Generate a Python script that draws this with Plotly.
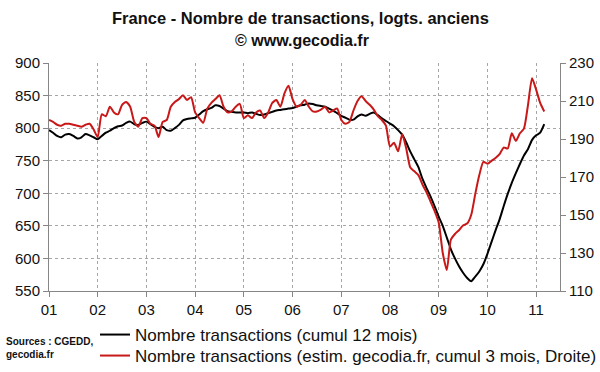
import plotly.graph_objects as go

# ---------------- data ----------------
years = list(range(2001, 2012))
tick_labels = ["01", "02", "03", "04", "05", "06", "07", "08", "09", "10", "11"]

# Monthly, Jan 2001 .. Mar 2011 (thousands, left axis)
black_12m = [
    797, 793, 788, 786, 790, 791, 788, 784, 786, 791, 789, 786,   # 2001
    783, 788, 793, 796, 800, 803, 804, 808, 810, 806, 805, 808,   # 2002
    810, 806, 802, 800, 802, 797, 796, 800, 805, 812, 814, 815,   # 2003
    816, 821, 826, 829, 831, 835, 834, 830, 826, 825, 824, 824,   # 2004
    824, 823, 824, 822, 820, 821, 823, 825, 827, 828, 829, 830,   # 2005
    831, 833, 835, 836, 838, 837, 835, 834, 833, 830, 827, 823,   # 2006
    819, 816, 813, 813, 818, 821, 819, 822, 824, 820, 815, 811,   # 2007
    807, 803, 797, 790, 778, 764, 752, 740, 722, 708, 695, 680,   # 2008
    664, 650, 632, 614, 600, 588, 578, 570, 565, 572, 580, 591,   # 2009
    607, 625, 643, 660, 680, 699, 716, 731, 745, 758, 768, 782,   # 2010
    789, 793, 806,                                               # 2011
]

# Monthly, Jan 2001 .. Mar 2011 (thousands, right axis)
red_3m = [
    200, 199, 197.5, 197, 198, 198, 197.5, 197, 196.5, 197.5, 198, 195,      # 2001
    191, 203, 202, 207, 204, 203, 208, 209.5, 207, 199, 196.5, 201,          # 2002
    201, 198, 197, 191, 199, 200, 207, 209.5, 211, 213, 210.5, 212,          # 2003
    204, 201, 198.5, 206, 209, 211, 213, 207, 204, 204.5, 207, 208.5,        # 2004
    201, 202.5, 201, 204, 205, 201, 204, 209, 210.5, 207, 214, 218,          # 2005
    211, 207, 208, 210.5, 207, 204.5, 204.5, 205.5, 207, 204, 205, 206,      # 2006
    200, 198, 199, 205, 210, 212.5, 210, 208, 205.5, 202, 200, 197,          # 2007
    186, 188, 183.5, 192.5, 185, 175, 173, 171, 166, 162, 157, 152,          # 2008
    146, 130, 121, 137, 140, 142, 144.5, 145.5, 150, 161, 171, 178,          # 2009
    177, 178.5, 180, 182, 185.5, 185, 193, 189, 193, 195.5, 208, 222,        # 2010
    216, 209, 204.5,                                                         # 2011
]

months = [2001 + i / 12 for i in range(len(black_12m))]

FONT = "Liberation Sans, Arial, sans-serif"
GRID = "#a6a6a6"
AXIS = "#868686"
TXT = "#111111"

# plot area in pixels: x 49..560, y 63..291
PL, PR, PT, PB = 49, 560, 63, 291
W, H = PR - PL, PB - PT


def px(x):
    return (x - PL) / W


def py(y):
    return (PB - y) / H


fig = go.Figure()
fig.add_trace(go.Scatter(
    x=months, y=black_12m, mode="lines", legend="legend",
    name="Nombre transactions (cumul 12 mois)",
    line=dict(color="#000000", width=2, shape="spline", smoothing=0.6),
))
fig.add_trace(go.Scatter(
    x=months, y=red_3m, mode="lines", yaxis="y2", legend="legend2",
    name="Nombre transactions (estim. gecodia.fr, cumul 3 mois, Droite)",
    line=dict(color="#c81818", width=2, shape="spline", smoothing=0.6),
))

legend_style = dict(
    xanchor="left", yanchor="top", orientation="v",
    font=dict(size=17, family=FONT, color=TXT),
    bgcolor="rgba(0,0,0,0)", itemwidth=30,
)

fig.update_layout(
    width=600, height=372,
    margin=dict(l=PL, r=600 - PR, t=PT, b=372 - PB, autoexpand=False),
    paper_bgcolor="white", plot_bgcolor="white",
    font=dict(family=FONT, color=TXT),
    showlegend=True,
    legend=dict(x=px(95), y=py(317), **legend_style),
    legend2=dict(x=px(95), y=py(338), **legend_style),
    xaxis=dict(
        range=[2001, 2011.49], tickmode="array", tickvals=years, ticktext=tick_labels,
        showgrid=True, gridcolor=GRID, griddash="dot", gridwidth=1,
        showline=True, linecolor=AXIS, linewidth=1,
        ticks="outside", ticklen=5, tickcolor=AXIS,
        tickfont=dict(size=15, family=FONT, color=TXT),
        zeroline=False, automargin=False,
    ),
    yaxis=dict(
        range=[550, 900], tickmode="linear", tick0=550, dtick=50,
        showgrid=True, gridcolor=GRID, griddash="dot", gridwidth=1,
        showline=True, linecolor=AXIS, linewidth=1,
        ticks="outside", ticklen=5, tickcolor=AXIS,
        tickfont=dict(size=15, family=FONT, color=TXT),
        zeroline=False, automargin=False,
    ),
    yaxis2=dict(
        range=[110, 230], tickmode="linear", tick0=110, dtick=20,
        overlaying="y", side="right", showgrid=False,
        showline=True, linecolor=AXIS, linewidth=1,
        ticks="outside", ticklen=5, tickcolor=AXIS,
        tickfont=dict(size=15, family=FONT, color=TXT),
        zeroline=False, automargin=False,
    ),
    annotations=[
        dict(text="<b>France - Nombre de transactions, logts. anciens</b>",
             xref="paper", yref="paper", x=px(300), y=py(18),
             xanchor="center", yanchor="middle", showarrow=False,
             font=dict(size=16.5, family=FONT, color=TXT)),
        dict(text="<b>© www.gecodia.fr</b>",
             xref="paper", yref="paper", x=px(302), y=py(41),
             xanchor="center", yanchor="middle", showarrow=False,
             font=dict(size=16, family=FONT, color=TXT)),
        dict(text="<b>Sources : CGEDD,<br>gecodia.fr</b>", align="left",
             xref="paper", yref="paper", x=px(4), y=py(334),
             xanchor="left", yanchor="top", showarrow=False,
             font=dict(size=10, family=FONT, color=TXT)),
    ],
)

fig.write_html(
    "out.html",
    config={"displayModeBar": False},
    post_script="document.body.style.margin='0';document.body.style.overflow='hidden';",
)
